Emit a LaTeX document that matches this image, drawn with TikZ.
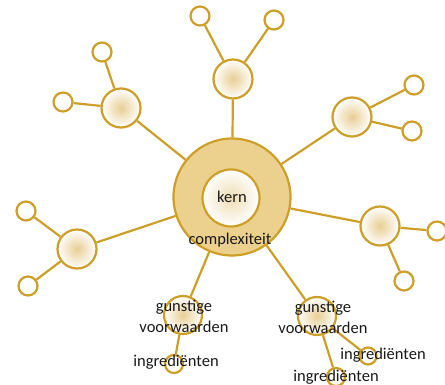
\documentclass[tikz,border=0pt]{standalone}
\usepackage{fontspec}
\setmainfont{Carlito}
\definecolor{gold}{RGB}{205,158,40}
\definecolor{ringfill}{RGB}{236,208,142}
\definecolor{glow}{RGB}{232,206,148}
\definecolor{ink}{RGB}{25,25,25}
\begin{document}
\begin{tikzpicture}[x=1pt,y=-1pt,
  link/.style={draw=gold,line width=2.2pt},
  hub/.style={circle,draw=gold,line width=2.2pt,minimum size=39pt,inner sep=0pt,inner color=glow,outer color=white},
  leaf/.style={circle,draw=gold,line width=2.2pt,minimum size=19pt,inner sep=0pt,fill=white},
  lbl/.style={text=ink,font=\fontsize{16.5}{21}\selectfont,align=center,inner sep=0pt}]
\useasboundingbox (0,0) rectangle (445,385);
\node[circle,draw=gold,line width=2.2pt,fill=ringfill,minimum size=117pt] (core) at (232,197) {};
\node[circle,draw=gold,line width=2.2pt,minimum size=57pt,inner color=glow!70,outer color=white] (kern) at (231,198) {};
\node[hub] (hubN) at (233,79) {};
\node[hub] (hubNW) at (121,108) {};
\node[hub] (hubNE) at (352,117) {};
\node[hub] (hubE) at (380,226) {};
\node[hub] (hubW) at (77,249) {};
\node[hub,minimum size=38pt] (hubSW) at (183,315) {};
\node[hub,minimum size=38pt] (hubSE) at (317,316) {};
\node[leaf] (leafN1) at (200,16) {};
\node[leaf] (leafN2) at (274,20) {};
\node[leaf] (leafNW1) at (102,52) {};
\node[leaf] (leafNW2) at (63,102) {};
\node[leaf] (leafNE1) at (414,85) {};
\node[leaf] (leafNE2) at (412,131) {};
\node[leaf] (leafE1) at (437,231) {};
\node[leaf] (leafE2) at (404,281) {};
\node[leaf] (leafW1) at (26,211) {};
\node[leaf] (leafW2) at (28,286) {};
\node[leaf,minimum size=18pt] (leafSW) at (174,364) {};
\node[leaf,minimum size=17pt] (leafSE1) at (368,356) {};
\node[leaf,minimum size=18pt] (leafSE2) at (336,377) {};
\draw[link] (core) -- (hubN);
\draw[link] (core) -- (hubNW);
\draw[link] (core) -- (hubNE);
\draw[link] (core) -- (hubE);
\draw[link] (core) -- (hubW);
\draw[link] (core) -- (hubSW);
\draw[link] (core) -- (hubSE);
\draw[link] (hubN) -- (leafN1);
\draw[link] (hubN) -- (leafN2);
\draw[link] (hubNW) -- (leafNW1);
\draw[link] (hubNW) -- (leafNW2);
\draw[link] (hubNE) -- (leafNE1);
\draw[link] (hubNE) -- (leafNE2);
\draw[link] (hubE) -- (leafE1);
\draw[link] (hubE) -- (leafE2);
\draw[link] (hubW) -- (leafW1);
\draw[link] (hubW) -- (leafW2);
\draw[link] (hubSW) -- (leafSW);
\draw[link] (hubSE) -- (leafSE1);
\draw[link] (hubSE) -- (leafSE2);
\node[lbl] (kernlbl) at (232,197) {kern};
\node[lbl] (corelbl) at (230,240) {complexiteit};
\node[lbl] (condSW) at (184,316) {gunstige\\voorwaarden};
\node[lbl] (condSE) at (323,317) {gunstige\\voorwaarden};
\node[lbl] (ingrSW) at (176,362) {ingrediënten};
\node[lbl] (ingrSE1) at (383,355) {ingrediënten};
\node[lbl] (ingrSE2) at (336,377) {ingrediënten};
\end{tikzpicture}
\end{document}
